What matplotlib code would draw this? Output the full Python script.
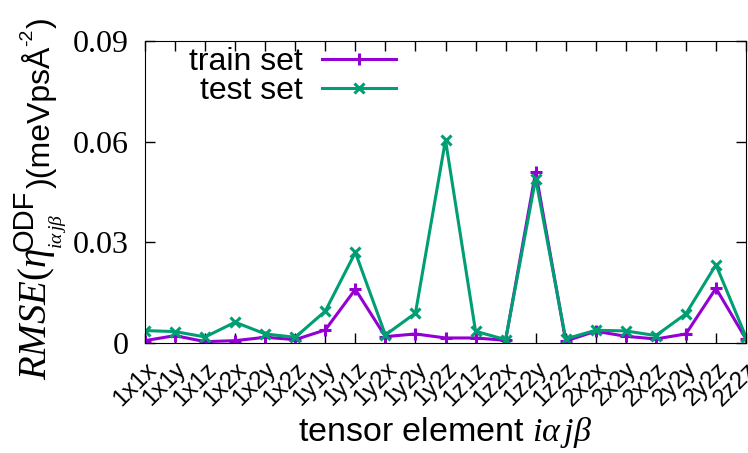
import numpy as np
import matplotlib
matplotlib.use("Agg")
import matplotlib.pyplot as plt

# tensor elements and RMSE values
elements = ["1x1x", "1x1y", "1x1z", "1x2x", "1x2y", "1x2z", "1y1y", "1y1z",
            "1y2x", "1y2y", "1y2z", "1z1z", "1z2x", "1z2y", "1z2z", "2x2x",
            "2x2y", "2x2z", "2y2y", "2y2z", "2z2z"]
train_rmse = [0.0007, 0.0022, 0.0004, 0.0007, 0.0017, 0.0010, 0.0039, 0.0160,
              0.0019, 0.0027, 0.0015, 0.0015, 0.0008, 0.0510, 0.0006, 0.0035,
              0.0020, 0.0012, 0.0027, 0.0163, 0.0012]
test_rmse = [0.0037, 0.0034, 0.0018, 0.0062, 0.0027, 0.0017, 0.0095, 0.0270,
             0.0024, 0.0089, 0.0605, 0.0035, 0.0010, 0.0490, 0.0012, 0.0038,
             0.0036, 0.0022, 0.0087, 0.0233, 0.0018]
yticks = [0, 0.03, 0.06, 0.09]
ytick_labels = ["0", "0.03", "0.06", "0.09"]

plt.rcParams["font.family"] = ["Liberation Sans", "DejaVu Sans"]
plt.rcParams["mathtext.fontset"] = "custom"
plt.rcParams["mathtext.rm"] = "Liberation Serif"
plt.rcParams["mathtext.it"] = "Liberation Serif:italic"
plt.rcParams["mathtext.sf"] = "Liberation Sans"

W, H = 748, 453
fig = plt.figure(figsize=(W / 100, H / 100), dpi=100)
ax = fig.add_axes([145 / W, 1 - 343 / H, 601 / W, 302 / H])

x = np.arange(len(elements))
ax.plot(x, train_rmse, color="#9400D3", lw=2.2, marker="+", ms=9, mew=2.2,
        label="train set")
ax.plot(x, test_rmse, color="#009E73", lw=2.2, marker="x", ms=7.5, mew=2.2,
        label="test set")

ax.set_xlim(0, len(elements) - 1)
ax.set_ylim(0, 0.09)
ax.set_xticks(x)
ax.set_xticklabels(elements, rotation=45, ha="right", va="top",
                   rotation_mode="anchor", fontsize=17.5)
ax.set_yticks(yticks)
ax.set_yticklabels(ytick_labels, fontsize=23, family="Liberation Serif")
ax.tick_params(direction="in", length=7.5, width=1, top=True, right=True)
ax.tick_params(axis="x", pad=11)
ax.tick_params(axis="y", pad=12)

ax.set_xlabel(r"tensor element $i\alpha\, j\beta$", fontsize=24.5)
ax.xaxis.set_label_coords(0.5, -0.24)

ax.legend(loc="upper left", bbox_to_anchor=(0.074, 0.98), frameon=False,
          markerfirst=False, fontsize=23, handlelength=2.3, handletextpad=0.6,
          labelspacing=-0.03, borderpad=0, borderaxespad=0)

# y label built from pieces so the sans "ODF" superscript keeps its large size
renderer = fig.canvas.get_renderer()


def piece(txt, xb, y0, **kw):
    t = fig.text(xb / W, y0 / H, txt, rotation=90, rotation_mode="anchor",
                 ha="left", va="baseline", **kw)
    return t.get_window_extent(renderer).y1


y = H - 380
end_a = piece(r"$RMSE(\eta$", 46, y, fontsize=28)
end_b = piece("ODF", 33, end_a - 3, fontsize=21)
end_c = piece(r"$i\alpha\, j\beta$", 62, end_a - 1, fontsize=14)
end_d = piece(")(meVpsÅ", 50, max(end_b, end_c) + 1, fontsize=23)
end_e = piece("-2", 32, end_d, fontsize=14)
piece(")", 50, end_e + 1, fontsize=23)

fig.savefig("out.png", dpi=100)
